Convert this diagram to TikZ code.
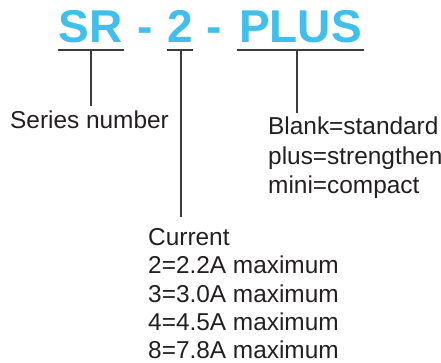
\documentclass[tikz,border=0pt]{standalone}
\usepackage{fontspec}
\setmainfont{Liberation Sans}
\definecolor{titleblue}{RGB}{64,190,236}
\definecolor{txt}{RGB}{35,31,32}
\definecolor{ln}{RGB}{60,60,60}
\begin{document}
\begin{tikzpicture}[x=1pt,y=-1pt,
  title/.style={inner sep=0pt,anchor=base,text=titleblue,font=\fontsize{46}{50}\selectfont\bfseries},
  lbl/.style={inner sep=0pt,anchor=base west,text=txt,font=\fontsize{24.4}{29}\selectfont},
  rule/.style={draw=ln,line width=1.25pt}]
\useasboundingbox (0,0) rectangle (441,363);
% title
\node[title] (sr) at (90.5,43) {SR};
\node[title] (h1) at (145,43) {-};
\node[title] (two) at (180,43) {2};
\node[title] (h2) at (214.5,43) {-};
\node[title] (plus) at (300.5,43) {PLUS};
% underlines
\coordinate (srL) at (58,50); \coordinate (srR) at (124,50);
\coordinate (twoL) at (167,50); \coordinate (twoR) at (193,50);
\coordinate (plL) at (237,50); \coordinate (plR) at (364,50);
\draw[rule] (srL) -- (srR);
\draw[rule] (twoL) -- (twoR);
\draw[rule] (plL) -- (plR);
% labels
\node[lbl] (series) at (10,129) {Series number};
\node[lbl] (b1) at (268,135) {Blank=standard};
\node[lbl] (b2) at (268,164.5) {plus=strengthen};
\node[lbl] (b3) at (268,194) {mini=compact};
\node[lbl] (c0) at (148,245) {Current};
\node[lbl] (c1) at (148,273.5) {2=2.2A maximum};
\node[lbl] (c2) at (148,302) {3=3.0A maximum};
\node[lbl] (c3) at (148,330.5) {4=4.5A maximum};
\node[lbl] (c4) at (148,358.5) {8=7.8A maximum};
% connectors
\coordinate (srT) at (91,50); \coordinate (srB) at (91,106);
\coordinate (twoT) at (181,50); \coordinate (twoB) at (181,217);
\coordinate (plT) at (297,50); \coordinate (plB) at (297,113);
\draw[rule] (srT) -- (srB);
\draw[rule] (twoT) -- (twoB);
\draw[rule] (plT) -- (plB);
\end{tikzpicture}
\end{document}
